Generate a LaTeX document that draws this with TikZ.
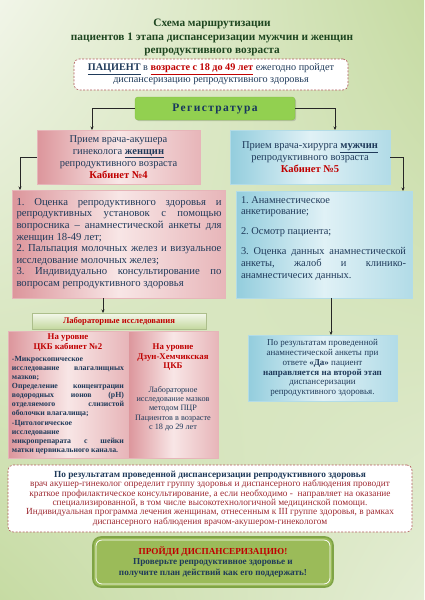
\documentclass[tikz,border=0pt]{standalone}
\usepackage{fontspec}
\setmainfont{Liberation Serif}
\usetikzlibrary{shadows,arrows.meta,shadings}
\frenchspacing
\definecolor{bgL}{HTML}{F1F5E8}
\definecolor{bgG}{HTML}{C6DBA3}
\definecolor{bgM}{HTML}{E4EDD4}
\definecolor{titlec}{HTML}{1E4620}
\definecolor{navy}{HTML}{1F3A5A}
\definecolor{redc}{HTML}{C00000}
\definecolor{maroon}{HTML}{9E2A32}
\definecolor{dashc}{HTML}{B05A5A}
\definecolor{regfill}{HTML}{92D050}
\definecolor{regdraw}{HTML}{86C045}
\definecolor{regtext}{HTML}{17365D}
\definecolor{pinkD}{HTML}{DC959B}
\definecolor{pinkL}{HTML}{F8E6E6}
\definecolor{blueD}{HTML}{93CDDD}
\definecolor{blueL}{HTML}{E0F1F6}
\definecolor{labT}{HTML}{F4F8EC}
\definecolor{labB}{HTML}{C4D89E}
\definecolor{finfill}{HTML}{9BBB59}
\definecolor{findraw}{HTML}{7FA446}
\begin{document}
\begin{tikzpicture}[x=1pt,y=-1pt,
  box/.style={anchor=north west, inner sep=0pt, outer sep=0pt},
  shad/.style={drop shadow={shadow xshift=1.2pt, shadow yshift=-1.2pt, opacity=0.35}},
  pinkbox/.style={box, shad, left color=pinkD, right color=pinkD!60!pinkL, middle color=pinkL, draw=pinkD!70!white, line width=0.4pt},
  bluebox/.style={box, shad, left color=blueD, right color=blueD!60!blueL, middle color=blueL, draw=blueD!70!white, line width=0.4pt},
  dashbox/.style={box, fill=white, draw=dashc, line width=0.6pt, dash pattern=on 2pt off 1.5pt, rounded corners=5pt},
  conn/.style={draw=black!85, line width=0.6pt, -{Stealth[length=3.5pt,width=3pt]}},
  txt/.style={inner sep=0pt, text=navy}
]
\useasboundingbox (0,0) rectangle (424,600);
\shade[upper left=bgL, upper right=bgG, lower left=bgG, lower right=bgM] (0,0) rectangle (424,600);

% title
\node[txt, text=titlec, align=center, font=\fontsize{11.3}{13.7}\selectfont\bfseries] (title) at (212,37.5)
  {Схема маршрутизации\\пациентов 1 этапа диспансеризации мужчин и женщин\\репродуктивного возраста};

% patient
\node[dashbox, minimum width=274pt, minimum height=31pt, text=navy, align=center,
  font=\fontsize{10.2}{12}\selectfont] (pat) at (74,59)
  {\textbf{\underline{ПАЦИЕНТ}} в \textcolor{redc}{\textbf{\underline{возрасте с 18 до 49 лет}}} ежегодно пройдет\\диспансеризацию репродуктивного здоровья};

% registratura
\node[box, shad, fill=regfill, draw=regdraw, rounded corners=3pt, minimum width=160pt, minimum height=23pt,
  text=regtext, font=\fontsize{11.5}{13}\selectfont\bfseries\addfontfeatures{LetterSpace=12}] (reg) at (135,97)
  {Регистратура};

% kabinet 4
\node[pinkbox, minimum width=163pt, minimum height=54pt, align=center, text=navy,
  font=\fontsize{10.5}{12}\selectfont] (k4) at (37,130)
  {Прием врача-акушера\\гинеколога \textbf{\underline{женщин}}\\репродуктивного возраста\\\textcolor{redc}{\textbf{Кабинет №4}}};

% kabinet 5
\node[bluebox, minimum width=160pt, minimum height=54pt, align=center, text=navy,
  font=\fontsize{10.5}{12}\selectfont] (k5) at (230,130)
  {Прием врача-хирурга \textbf{\underline{мужчин}}\\репродуктивного возраста\\\textcolor{redc}{\textbf{Кабинет №5}}};

% big pink
\node[pinkbox, minimum width=213pt, minimum height=108pt] (p2) at (12,190) {};
\node[txt, text width=205pt, align=justify, font=\fontsize{10.7}{11.6}\selectfont] (p2t) at (119,243.5)
  {1. Оценка репродуктивного здоровья и\linebreak репродуктивных установок с помощью\linebreak вопросника – анамнестической анкеты для\linebreak женщин 18-49 лет;\\2. Пальпация молочных желез и визуальное\linebreak исследование молочных желез;\\3. Индивидуально консультирование по\linebreak вопросам репродуктивного здоровья};

% big blue
\node[bluebox, minimum width=176pt, minimum height=107pt] (b2) at (236,191) {};
\node[txt, text width=165pt, align=justify, font=\fontsize{10.4}{11.8}\selectfont, anchor=north] (b2t) at (323.5,196)
  {1. Анамнестическое\\анкетирование;\\[8pt]2. Осмотр пациента;\\[8pt]3. Оценка данных анамнестической\linebreak анкеты, жалоб и клинико-\linebreak анамнестичесих данных.};

% lab header
\node[box, shad, top color=labT, bottom color=labB, draw=labB!80!black!60!labB, line width=0.3pt,
  minimum width=174pt, minimum height=16pt, text=redc, font=\fontsize{8.6}{10}\selectfont\bfseries] (lab) at (32,313)
  {Лабораторные исследования};

% lab boxes
\node[pinkbox, minimum width=120pt, minimum height=127pt] (l1) at (8,331) {};
\node[pinkbox, minimum width=90pt, minimum height=127pt] (r1) at (128,331) {};
\node[txt, text=redc, align=center, font=\fontsize{8.8}{10}\selectfont\bfseries, anchor=north] (l1h) at (68,334)
  {На уровне\\ЦКБ кабинет №2};
\node[txt, text width=112pt, align=justify, font=\fontsize{7.8}{9.1}\selectfont\bfseries, anchor=north] (l1t) at (68,356)
  {-Микроскопическое\\исследование влагалищных\linebreak мазков;\\Определение концентрации\linebreak водородных ионов (pH)\linebreak отделяемого слизистой\linebreak оболочки влагалища;\\-Цитологическое\\исследование\\микропрепарата с шейки\linebreak матки цервикального канала.};
\node[txt, text=redc, align=center, font=\fontsize{8.8}{9.2}\selectfont\bfseries, anchor=north] (r1h) at (173,344)
  {На уровне\\Дзун-Хемчикская\\ЦКБ};
\node[txt, align=center, font=\fontsize{8.2}{9.4}\selectfont, anchor=north] (r1t) at (173,386)
  {Лабораторное\\исследование мазков\\методом ПЦР\\Пациентов в возрасте\\с 18 до 29 лет};

% blue result
\node[bluebox, minimum width=149pt, minimum height=66pt, align=center, text=navy,
  font=\fontsize{9}{9.8}\selectfont] (b3) at (248,335)
  {По результатам проведенной\\анамнестической анкеты при\\ответе \textbf{«Да»} пациент\\\textbf{направляется на второй этап}\\диспансеризации\\репродуктивного здоровья.};

% bottom dashed
\node[dashbox, minimum width=404pt, minimum height=67pt, align=center, text=maroon,
  font=\fontsize{9.3}{9.4}\selectfont] (res) at (8,465)
  {\textcolor{navy}{\textbf{По результатам проведенной диспансеризации репродуктивного здоровья}}\\врач акушер-гинеколог определит группу здоровья и диспансерного наблюдения проводит\\краткое профилактическое консультирование, а если необходимо -~ направляет на оказание\\специализированной, в том числе высокотехнологичной медицинской помощи.\\Индивидуальная программа лечения женщинам, отнесенным к III группе здоровья, в рамках\\диспансерного наблюдения врачом-акушером-гинекологом};

% final
\node[box, fill=finfill, draw=findraw, line width=1.6pt, rounded corners=8pt, minimum width=240pt, minimum height=50pt,
  align=center, text=navy, font=\fontsize{9.2}{10.5}\selectfont\bfseries] (fin) at (93,537)
  {\textcolor{redc}{ПРОЙДИ ДИСПАНСЕРИЗАЦИЮ!}\\Проверьте репродуктивное здоровье и\\получите план действий как его поддержать!};
\draw[white, line width=0.8pt, rounded corners=6pt] ([shift={(3pt,-3pt)}]fin.north west) rectangle ([shift={(-3pt,3pt)}]fin.south east);

% connectors
\draw[conn] (reg.west) -| ([xshift=55pt]k4.north west);
\draw[conn] (reg.east) -| ([xshift=105pt]k5.north west);
\draw[conn] (k4.west) -| ([xshift=8pt]p2.north west);
\draw[conn] (k5.east) -| ([xshift=-9pt]b2.north east);
\draw[conn] ([xshift=91pt]p2.south west) -- ([xshift=71pt]lab.north west);
\draw[conn] ([xshift=95pt]b2.south west) -- ([xshift=83pt]b3.north west);
\end{tikzpicture}
\end{document}
